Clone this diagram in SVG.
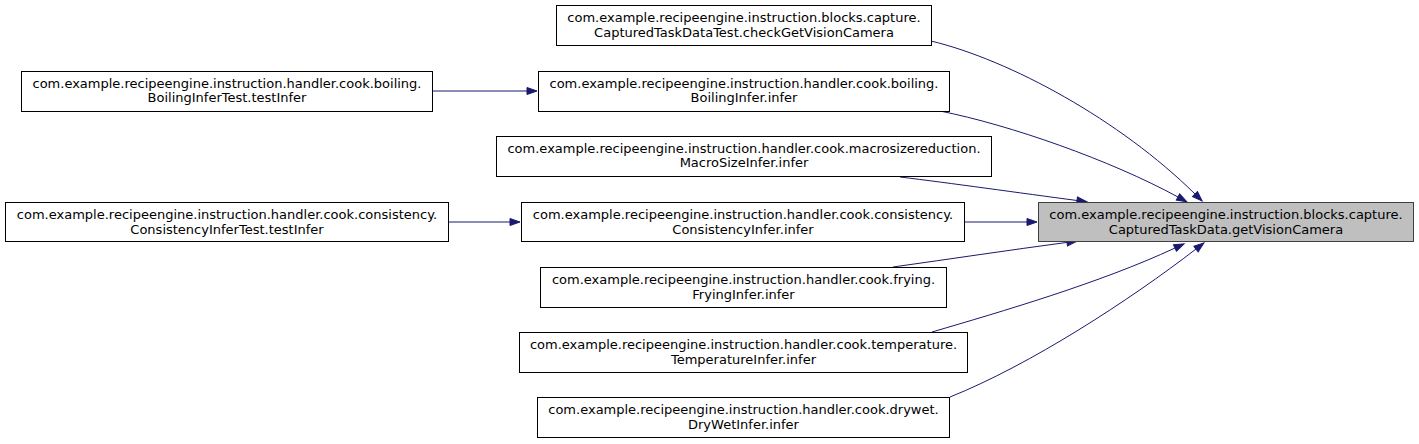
<svg xmlns="http://www.w3.org/2000/svg" width="1419" height="444" viewBox="0 0 1419 444">
<style>
  .box { fill: #ffffff; stroke: #000000; stroke-width: 1; }
  .root { fill: #bfbfbf; stroke: #404040; stroke-width: 1; }
  text { font-family: "DejaVu Sans", "Liberation Sans", sans-serif; font-size: 13px; fill: #000000; text-anchor: middle; }
  .edge { fill: none; stroke: #191970; stroke-width: 1; marker-end: url(#arrow); }
</style>
<defs>
  <marker id="arrow" markerUnits="userSpaceOnUse" markerWidth="10" markerHeight="7" refX="0" refY="3.5" orient="auto" overflow="visible">
    <path d="M0,0 L10,3.5 L0,7 z" fill="#191970" stroke="#191970" stroke-width="1"/>
  </marker>
</defs>
<rect width="1419" height="444" fill="#ffffff"/>
<g id="connectors">
  <path class="edge" d="M432,91 L527,91"/>
  <path class="edge" d="M448,222 L510,222"/>
  <path class="edge" d="M931,41 C1010,60 1120,120 1195,194"/>
  <path class="edge" d="M940,111 C1010,125 1110,160 1178,197"/>
  <path class="edge" d="M900,177 C950,183 1020,193 1077,200.5"/>
  <path class="edge" d="M964,222 L1027,222"/>
  <path class="edge" d="M893,267 C950,259 1010,250 1067,242.4"/>
  <path class="edge" d="M932,332 C1000,312 1100,283 1175,248"/>
  <path class="edge" d="M950,397 C1030,365 1130,300 1196,249"/>
</g>
<g id="node-target">
  <rect class="root" x="1038.5" y="202.5" width="375" height="39"/>
  <text x="1226" y="219">com.example.recipeengine.instruction.blocks.capture.</text>
  <text x="1226" y="234">CapturedTaskData.getVisionCamera</text>
</g>
<g id="node-capturedtest">
  <rect class="box" x="556.5" y="5.5" width="375" height="40"/>
  <text x="744" y="22">com.example.recipeengine.instruction.blocks.capture.</text>
  <text x="744" y="37">CapturedTaskDataTest.checkGetVisionCamera</text>
</g>
<g id="node-boiling">
  <rect class="box" x="538.5" y="71.5" width="411" height="40"/>
  <text x="744" y="88">com.example.recipeengine.instruction.handler.cook.boiling.</text>
  <text x="744" y="102">BoilingInfer.infer</text>
</g>
<g id="node-boilingtest">
  <rect class="box" x="21.5" y="71.5" width="411" height="40"/>
  <text x="227" y="88">com.example.recipeengine.instruction.handler.cook.boiling.</text>
  <text x="227" y="102">BoilingInferTest.testInfer</text>
</g>
<g id="node-macrosize">
  <rect class="box" x="496.5" y="136.5" width="495" height="40"/>
  <text x="744" y="153">com.example.recipeengine.instruction.handler.cook.macrosizereduction.</text>
  <text x="744" y="167">MacroSizeInfer.infer</text>
</g>
<g id="node-consistency">
  <rect class="box" x="521.5" y="202.5" width="443" height="39"/>
  <text x="743" y="219">com.example.recipeengine.instruction.handler.cook.consistency.</text>
  <text x="743" y="234">ConsistencyInfer.infer</text>
</g>
<g id="node-consistencytest">
  <rect class="box" x="5.5" y="202.5" width="443" height="39"/>
  <text x="227" y="219">com.example.recipeengine.instruction.handler.cook.consistency.</text>
  <text x="227" y="234">ConsistencyInferTest.testInfer</text>
</g>
<g id="node-frying">
  <rect class="box" x="540.5" y="267.5" width="406" height="40"/>
  <text x="743.5" y="284">com.example.recipeengine.instruction.handler.cook.frying.</text>
  <text x="743.5" y="299">FryingInfer.infer</text>
</g>
<g id="node-temperature">
  <rect class="box" x="519.5" y="332.5" width="448" height="40"/>
  <text x="743.5" y="349">com.example.recipeengine.instruction.handler.cook.temperature.</text>
  <text x="743.5" y="364">TemperatureInfer.infer</text>
</g>
<g id="node-drywet">
  <rect class="box" x="537.5" y="397.5" width="412" height="40"/>
  <text x="743.5" y="414">com.example.recipeengine.instruction.handler.cook.drywet.</text>
  <text x="743.5" y="429">DryWetInfer.infer</text>
</g>
</svg>
